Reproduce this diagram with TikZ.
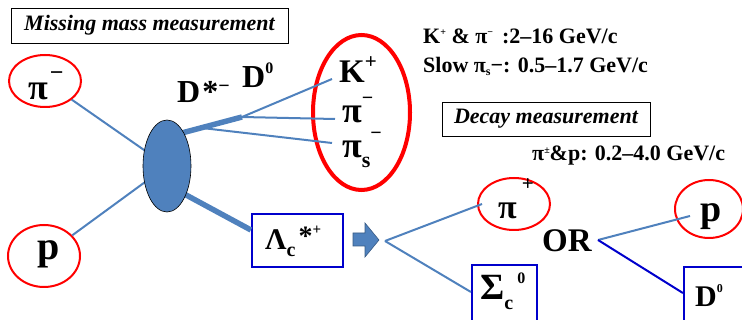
\documentclass[tikz,border=0pt]{standalone}
\usepackage{fontspec}
\setmainfont{Liberation Serif}
\usetikzlibrary{shapes.geometric}
\definecolor{lb}{HTML}{4F81BD}
\definecolor{bb}{HTML}{0000CC}
\definecolor{rr}{HTML}{FF0000}
\newcommand{\fs}[1]{\fontsize{#1}{#1}\selectfont}
\newcommand{\up}[3]{\raisebox{#1}{\fs{#2}#3}}
\tikzset{
  txt/.style={inner sep=0pt, anchor=base west, font=\bfseries},
  redell/.style={draw=rr, line width=2pt, ellipse, inner sep=0pt},
  bluebox/.style={draw=bb, line width=2.2pt, rectangle, inner sep=0pt},
  blackbox/.style={draw=black, line width=0.8pt, rectangle, inner sep=0pt, font=\bfseries\itshape\fs{22}},
  thin/.style={draw=lb, line width=2pt},
  thick/.style={draw=lb, line width=5.5pt},
}
\begin{document}
\begin{tikzpicture}[x=1pt,y=-1pt]
\useasboundingbox (0,0) rectangle (742,320);
\clip (0,0) rectangle (742,320);
% boxes with titles
\node[blackbox, minimum width=277pt, minimum height=35pt] (mm) at (149.5,25.5) {Missing mass measurement\hspace{6pt}};
\node[blackbox, minimum width=208pt, minimum height=34pt] (dm) at (546,119) {Decay measurement\hspace{8pt}};
% texts
\node[txt, font=\bfseries\fs{22}] (t1) at (423,44) {K\up{8pt}{10}{+} \& π\up{8pt}{10}{−}\hspace{9pt}:2–16 GeV/c};
\node[txt, font=\bfseries\fs{22}] (t2) at (423,73) {Slow π\raisebox{-3pt}{\fs{12}s}−: 0.5–1.7 GeV/c};
\node[txt, font=\bfseries\fs{22}] (t3) at (532,161) {π\up{7pt}{10}{±}\&p: 0.2–4.0 GeV/c};
% coordinates
\coordinate (J) at (242,117);
\coordinate (T0) at (178,134);
\coordinate (Ds) at (202,128);
\coordinate (Kend) at (332,79);
\coordinate (Pend) at (335,119);
\coordinate (Send) at (332,143);
\coordinate (L0) at (175,189);
\coordinate (F) at (385,241);
\coordinate (O) at (598,240);
% nodes
\node[redell, minimum width=72pt, minimum height=52pt] (pim) at (45,81) {};
\node[redell, minimum width=72pt, minimum height=62pt] (pL) at (44,256) {};
\node[redell, line width=4pt, minimum width=97pt, minimum height=155pt] (big) at (361.5,112.5) {};
\node[redell, minimum width=72pt, minimum height=52pt] (pip) at (514,204) {};
\node[redell, minimum width=68pt, minimum height=58pt] (pR) at (709,209) {};
\node[bluebox, minimum width=91pt, minimum height=53pt] (lam) at (297.5,240.5) {};
\node[bluebox, minimum width=65pt, minimum height=64pt] (sig) at (504.5,297) {};
\node[bluebox, minimum width=60pt, minimum height=64pt] (dz) at (714,299) {};
% connectors (behind blob)
\draw[thin] (pim) -- (167,166);
\draw[thin] (pL) -- (167,166);
\draw[thick] (T0) -- (J);
\draw[thin] (J) -- (Kend);
\draw[thin] (J) -- (Pend);
\draw[thin] (Ds) -- (Send);
\draw[thick] (L0) -- (lam.west |- 0,230);
\node[ellipse, draw=black, line width=0.6pt, fill=lb, minimum width=48pt, minimum height=92pt, inner sep=0pt] (blob) at (167,166) {};
% block arrow
\filldraw[fill=lb, draw=lb!70!black, line width=0.6pt] (353,233) -- (365,233) -- (365,223) -- (379,240) -- (365,257) -- (365,246) -- (353,246) -- cycle;
\draw[thin] (F) -- (482,204);
\draw[thin] (F) -- (sig.west |- 0,292);
\draw[thin] (O) -- (690,216);
\draw[draw=bb, line width=2pt] (O) -- (dz.west |- 0,293);
% labels
\node[txt] (lpim) at (28,100) {\fs{36}π\hspace{2pt}\up{19pt}{24}{−}};
\node[txt] (lpL) at (37,260) {\fs{40}p};
\node[txt] (lds) at (177,103) {\fs{32}D\hspace{2pt}*\up{10pt}{20}{−}};
\node[txt] (ldz) at (242,88) {\fs{32}D\up{14pt}{16}{0}};
\node[txt] (lK) at (339,83) {\fs{33}K\up{14pt}{21}{+}};
\node[txt] (lpi) at (342,123) {\fs{36}π\up{18pt}{20}{−}};
\node[txt] (lps) at (342,158) {\fs{36}π\raisebox{-10pt}{\fs{22}s}\up{18pt}{20}{−}};
\node[txt] (llam) at (265,250) {\fs{30}Λ\raisebox{-7pt}{\fs{20}c}\hspace{3pt}\up{4pt}{28}{*}\up{15pt}{15}{+}};
\node[txt] (lpip) at (498,219) {\fs{34}π\hspace{5pt}\up{28pt}{21}{+}};
\node[txt] (lor) at (542,252) {\fs{33}OR};
\node[txt] (lpR) at (700,222) {\fs{38}p};
\node[txt] (lsig) at (480,300) {\fs{37}Σ\raisebox{-10pt}{\fs{20}c}\hspace{4pt}\up{16pt}{16}{0}};
\node[txt] (ldz2) at (695,307) {\fs{30}D\up{14pt}{12}{0}};
\end{tikzpicture}
\end{document}
